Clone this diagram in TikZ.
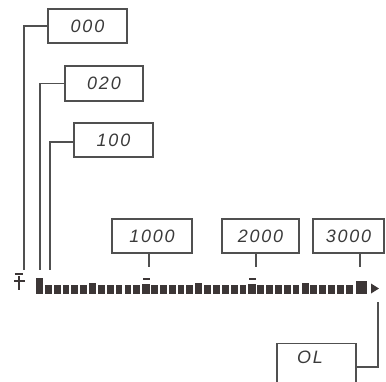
\documentclass[tikz,border=0pt]{standalone}
\usepackage{fontspec}
\setmainfont{Liberation Sans}
\newfontfamily\lcdfont[LetterSpace=10]{Liberation Sans}
\definecolor{linec}{HTML}{505050}
\definecolor{segc}{HTML}{3C3636}
\definecolor{txtc}{HTML}{3A3A3A}
\begin{document}
\begin{tikzpicture}[x=1bp,y=-1bp,
  lcdbox/.style={draw=linec, line width=1.3bp, minimum height=34bp, inner sep=0pt},
  lead/.style={draw=linec, line width=1.2bp},
  digits/.style={font=\lcdfont\itshape\fontsize{18}{18}\selectfont, text=txtc},
  seg/.style={fill=segc}]
\useasboundingbox (0,0) rectangle (386,382);
% boxes
\node[lcdbox, digits, minimum width=79bp] (b000) at (87.5,26) {000};
\node[lcdbox, digits, minimum width=78bp, minimum height=35bp] (b020) at (104,83.5) {020};
\node[lcdbox, digits, minimum width=79bp] (b100) at (113.5,140) {100};
\node[lcdbox, digits, minimum width=80bp] (b1000) at (152,236) {1000};
\node[lcdbox, digits, minimum width=77bp] (b2000) at (260.5,236) {2000};
\node[lcdbox, digits, minimum width=71bp] (b3000) at (348.5,236) {3000};
\node[lcdbox, minimum width=79bp, minimum height=50bp, anchor=north] (bOL) at (316.5,343) {};
\node[digits, anchor=center] (tOL) at (310,357) {OL};
% leader end points
\coordinate (e000) at (24,270);
\coordinate (e020) at (40,270);
\coordinate (e100) at (50,270);
\coordinate (t1000) at (149,267);
\coordinate (t2000) at (256,267);
\coordinate (t3000) at (360,267);
\coordinate (eOL) at (378,302);
\draw[lead] (b000.west) -| (e000);
\draw[lead] (b020.west) -| (e020);
\draw[lead] ([yshift=-2bp]b100.west) -| (e100);
\draw[lead] (b1000.south -| t1000) -- (t1000);
\draw[lead] (b2000.south -| t2000) -- (t2000);
\draw[lead] (b3000.south -| t3000) -- (t3000);
\draw[lead] ([yshift=-24bp]bOL.north east) -| (eOL);
% sign symbol
\draw[segc, line width=2bp] (14.5,273.5) -- (23,273.5);
\draw[segc, line width=2.2bp] (14,281) -- (24.5,281);
\draw[segc, line width=2.2bp] (19.3,276) -- (19.3,290);
% bar graph segments
\foreach \k in {1,...,5,7,8,9,10,11,13,14,15,16,17,19,20,21,22,23,25,26,27,28,29,31,32,33,34,35}{
  \pgfmathsetmacro\xa{36+8.85*\k}
  \fill[seg] (\xa,285) rectangle ++(6.8,8.5);
}
\foreach \k in {6,18,30}{
  \pgfmathsetmacro\xa{36+8.85*\k}
  \fill[seg] (\xa,282.5) rectangle ++(7,11);
}
\foreach \k in {12,24}{
  \pgfmathsetmacro\xa{36+8.85*\k}
  \fill[seg] (\xa,284) rectangle ++(8,9.5);
  \fill[seg] (\xa+1,277.5) rectangle ++(7,2.5);
}
\fill[seg] (36,278) rectangle (43,293.5);
\fill[seg] (356,281) rectangle (367,293.5);
\fill[seg] (371,283.5) -- (379,288.5) -- (371,293.5) -- cycle;
\end{tikzpicture}
\end{document}
